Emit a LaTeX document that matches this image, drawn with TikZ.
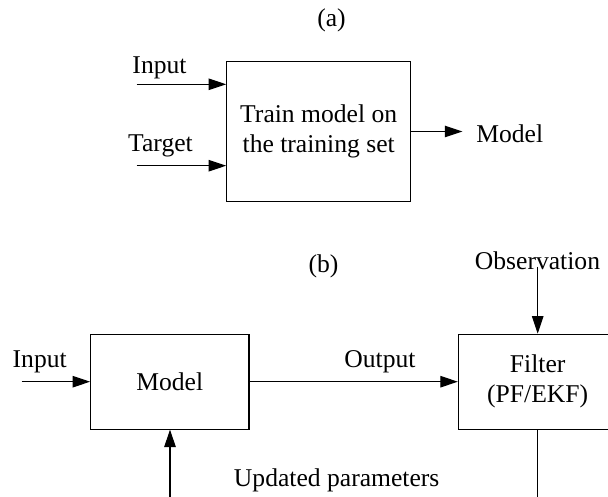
\documentclass[tikz,border=0pt]{standalone}
\usepackage{fontspec}
\setmainfont{Liberation Serif}
\usetikzlibrary{arrows.meta}
\begin{document}
\begin{tikzpicture}[x=1pt,y=-1pt,
  font=\fontsize{25.6}{30}\selectfont,
  box/.style={draw, line width=1.1pt, inner sep=0pt, align=center},
  lbl/.style={inner sep=0pt},
  conn/.style={line width=1.1pt},
  arr/.style={conn, -{Triangle[length=17.5pt,width=11.5pt]}}]
\clip (0,0) rectangle (608,497);
\useasboundingbox (0,0) rectangle (608,497);
% (a)
\node[lbl] (la) at (331.5,20) {(a)};
\node[box, minimum width=184pt, minimum height=139.6pt] (train) at (318.7,131.5) {Train model on\\the training set};
\coordinate (inA) at (136.7,84.3);
\coordinate (tgA) at (136.7,165.7);
\coordinate (mdA) at (462.3,131.5);
\node[lbl] (inputA) at (159.5,68) {Input};
\node[lbl] (targetA) at (160.5,146) {Target};
\node[lbl] (modelA) at (509.7,134) {Model};
\draw[arr] (inA) -- (inA -| train.west);
\draw[arr] (tgA) -- (tgA -| train.west);
\draw[arr] (train.east) -- (mdA);
% (b)
\node[lbl] (lb) at (323.5,266.7) {(b)};
\node[box, minimum width=158.3pt, minimum height=94.7pt] (model) at (169.8,381.7) {Model};
\node[box, minimum width=158.7pt, minimum height=95pt] (filter) at (537.7,381.7) {Filter\\(PF/EKF)};
\coordinate (inB) at (21.7,381.7);
\coordinate (obs) at (537.7,266.7);
\coordinate (fbot) at (537.7,510);
\coordinate (mbot) at (170,510);
\node[lbl] (inputB) at (39.7,361.7) {Input};
\node[lbl] (outB) at (380,361.7) {Output};
\node[lbl] (obsB) at (537.5,260.7) {Observation};
\node[lbl] (upd) at (336.7,480) {Updated parameters};
\draw[arr] (inB) -- (model.west);
\draw[arr] (model.east) -- (filter.west);
\draw[arr] (obs) -- (filter.north);
\draw[conn] (filter.south) -- (fbot);
\draw[arr] (mbot) -- (model.south -| mbot);
\end{tikzpicture}
\end{document}
